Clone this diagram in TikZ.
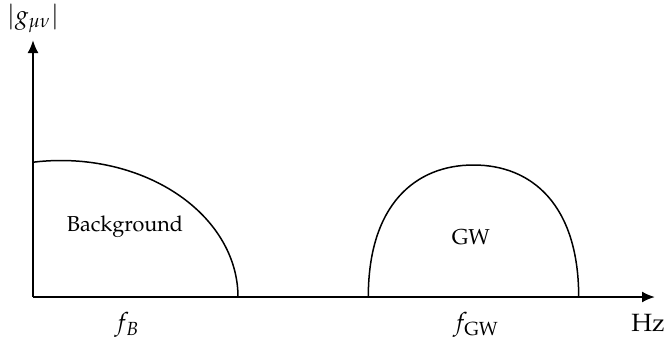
\documentclass[tikz,border=0pt]{standalone}
\usepackage[T1]{fontenc}
\usepackage{mathpazo}
\usetikzlibrary{arrows.meta}

\begin{document}
\begin{tikzpicture}[x=0.5pt,y=-0.5pt,
    axis/.style={line width=1pt,-{Latex[length=6.5pt,width=5.5pt]}},
    axislabel/.style={font=\fontsize{12.5}{15}\selectfont,inner sep=1pt},
    bump/.style={line width=0.75pt},
    bumplabel/.style={font=\fontsize{10.8}{13}\selectfont}]
    \useasboundingbox (0,0) rectangle (665,343);
    % axes
    \coordinate (O) at (33,297);
    \coordinate (xend) at (655,297);
    \coordinate (yend) at (33,40);
    \draw[axis] (O) -- (xend);
    \draw[axis] (O) -- (yend);
    \node[axislabel] (gmn) at (33,18) {$|g_{\mu\nu}|$};
    \node[axislabel] (hz) at (648,323) {Hz};
    \node[axislabel] (fb) at (127,325) {$f_B$};
    \node[axislabel] (fgw) at (476,325) {$f_{\mathrm{GW}}$};
    % background spectrum, part of an ellipse cut by the y axis
    \draw[bump] plot[domain=99.4:0,samples=80] ({61+177*cos(\x)},{297-136.5*sin(\x)});
    \node[bumplabel] (bg) at (125,227) {Background};
    % gravitational wave bump
    \coordinate (gwl) at (368.3,297);
    \coordinate (gwtop) at (473.5,165);
    \coordinate (gwr) at (578.7,297);
    \draw[bump] (gwl) .. controls (368.3,205) and (415,165) .. (gwtop)
        .. controls (532,165) and (578.7,205) .. (gwr);
    \node[bumplabel] (gw) at (471,237) {GW};
\end{tikzpicture}
\end{document}
